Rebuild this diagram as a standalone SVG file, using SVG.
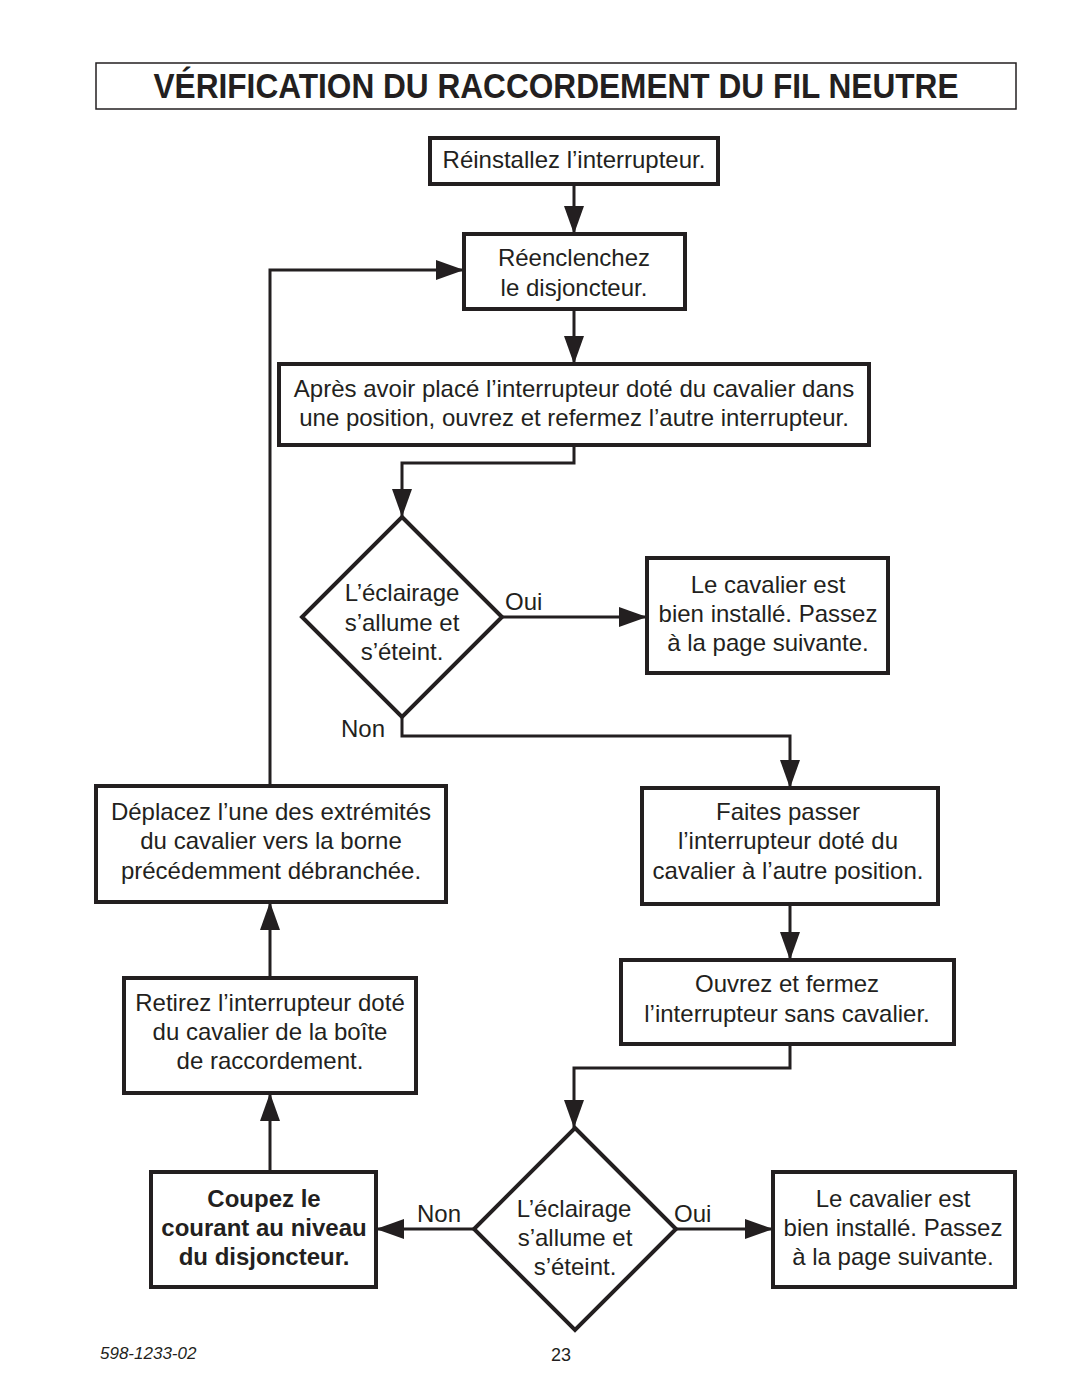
<svg xmlns="http://www.w3.org/2000/svg" width="1080" height="1397" viewBox="0 0 1080 1397">
<style>
.box{fill:#fff;stroke:#231f20;stroke-width:4}
.dia{fill:#fff;stroke:#231f20;stroke-width:4;stroke-linejoin:miter}
.t{font-family:"Liberation Sans",Arial,sans-serif;font-size:24px;fill:#231f20;text-anchor:middle}
.b{font-weight:bold}
.lbl{font-family:"Liberation Sans",Arial,sans-serif;font-size:24px;fill:#231f20}
.c{fill:none;stroke:#231f20;stroke-width:3;marker-end:url(#ah)}
</style>
<defs>
<marker id="ah" markerUnits="userSpaceOnUse" markerWidth="28" markerHeight="20" refX="28" refY="10" orient="auto">
<path d="M0,0 L28,10 L0,20 z" fill="#231f20"/>
</marker>
</defs>
<rect width="1080" height="1397" fill="#fff"/>
<g id="title">
<rect x="96" y="63" width="920" height="46" fill="#fff" stroke="#231f20" stroke-width="1.5"/>
<text x="556" y="98" font-family="Liberation Sans,Arial,sans-serif" font-size="35" font-weight="bold" fill="#231f20" text-anchor="middle" textLength="805" lengthAdjust="spacingAndGlyphs">VÉRIFICATION DU RACCORDEMENT DU FIL NEUTRE</text>
</g>
<g id="connectors">
<path class="c" d="M574,184 V234"/>
<path class="c" d="M574,309 V364"/>
<path class="c" d="M574,445 V463 H402 V517"/>
<path class="c" d="M502,617 H647"/>
<path class="c" d="M402,717 V736 H790 V788"/>
<path class="c" d="M790,904 V960"/>
<path class="c" d="M790,1044 V1068 H574 V1128"/>
<path class="c" d="M676,1229 H773"/>
<path class="c" d="M474,1229 H376"/>
<path class="c" d="M270,1172 V1093"/>
<path class="c" d="M270,978 V902"/>
<path class="c" d="M270,786 V270 H464"/>
<text class="lbl" x="505" y="610">Oui</text>
<text class="lbl" x="341" y="737">Non</text>
<text class="lbl" x="674" y="1222">Oui</text>
<text class="lbl" x="417" y="1222">Non</text>
</g>
<g id="n1">
<rect class="box" x="430" y="138" width="288" height="46"/>
<text class="t" x="574" y="168">Réinstallez l’interrupteur.</text>
</g>
<g id="n2">
<rect class="box" x="464" y="234" width="221" height="75"/>
<text class="t" x="574" y="266">Réenclenchez</text>
<text class="t" x="574" y="296">le disjoncteur.</text>
</g>
<g id="n3">
<rect class="box" x="279" y="364" width="590" height="81"/>
<text class="t" x="574" y="397">Après avoir placé l’interrupteur doté du cavalier dans</text>
<text class="t" x="574" y="426">une position, ouvrez et refermez l’autre interrupteur.</text>
</g>
<g id="d1">
<polygon class="dia" points="402,517 502,617 402,717 302,617"/>
<text class="t" x="402" y="601">L’éclairage</text>
<text class="t" x="402" y="631">s’allume et</text>
<text class="t" x="402" y="660">s’éteint.</text>
</g>
<g id="n4">
<rect class="box" x="647" y="558" width="241" height="115"/>
<text class="t" x="768" y="593">Le cavalier est</text>
<text class="t" x="768" y="622">bien installé. Passez</text>
<text class="t" x="768" y="651">à la page suivante.</text>
</g>
<g id="n5">
<rect class="box" x="642" y="788" width="296" height="116"/>
<text class="t" x="788" y="820">Faites passer</text>
<text class="t" x="788" y="849">l’interrupteur doté du</text>
<text class="t" x="788" y="879">cavalier à l’autre position.</text>
</g>
<g id="n6">
<rect class="box" x="621" y="960" width="333" height="84"/>
<text class="t" x="787" y="992">Ouvrez et fermez</text>
<text class="t" x="787" y="1022">l’interrupteur sans cavalier.</text>
</g>
<g id="d2">
<polygon class="dia" points="575,1128 676,1229 575,1330 474,1229"/>
<text class="t" x="574" y="1217">L’éclairage</text>
<text class="t" x="575" y="1246">s’allume et</text>
<text class="t" x="575" y="1275">s’éteint.</text>
</g>
<g id="n7">
<rect class="box" x="773" y="1172" width="242" height="115"/>
<text class="t" x="893" y="1207">Le cavalier est</text>
<text class="t" x="893" y="1236">bien installé. Passez</text>
<text class="t" x="893" y="1265">à la page suivante.</text>
</g>
<g id="n8">
<rect class="box" x="151" y="1172" width="225" height="115"/>
<text class="t b" x="264" y="1207">Coupez le</text>
<text class="t b" x="264" y="1236">courant au niveau</text>
<text class="t b" x="264" y="1265">du disjoncteur.</text>
</g>
<g id="n9">
<rect class="box" x="124" y="978" width="292" height="115"/>
<text class="t" x="270" y="1011">Retirez l’interrupteur doté</text>
<text class="t" x="270" y="1040">du cavalier de la boîte</text>
<text class="t" x="270" y="1069">de raccordement.</text>
</g>
<g id="n10">
<rect class="box" x="96" y="786" width="350" height="116"/>
<text class="t" x="271" y="820">Déplacez l’une des extrémités</text>
<text class="t" x="271" y="849">du cavalier vers la borne</text>
<text class="t" x="271" y="879">précédemment débranchée.</text>
</g>
<g id="footer">
<text x="100" y="1359" font-family="Liberation Sans,Arial,sans-serif" font-size="17" font-style="italic" fill="#231f20">598-1233-02</text>
<text x="561" y="1361" font-family="Liberation Sans,Arial,sans-serif" font-size="18" fill="#231f20" text-anchor="middle">23</text>
</g>
</svg>
